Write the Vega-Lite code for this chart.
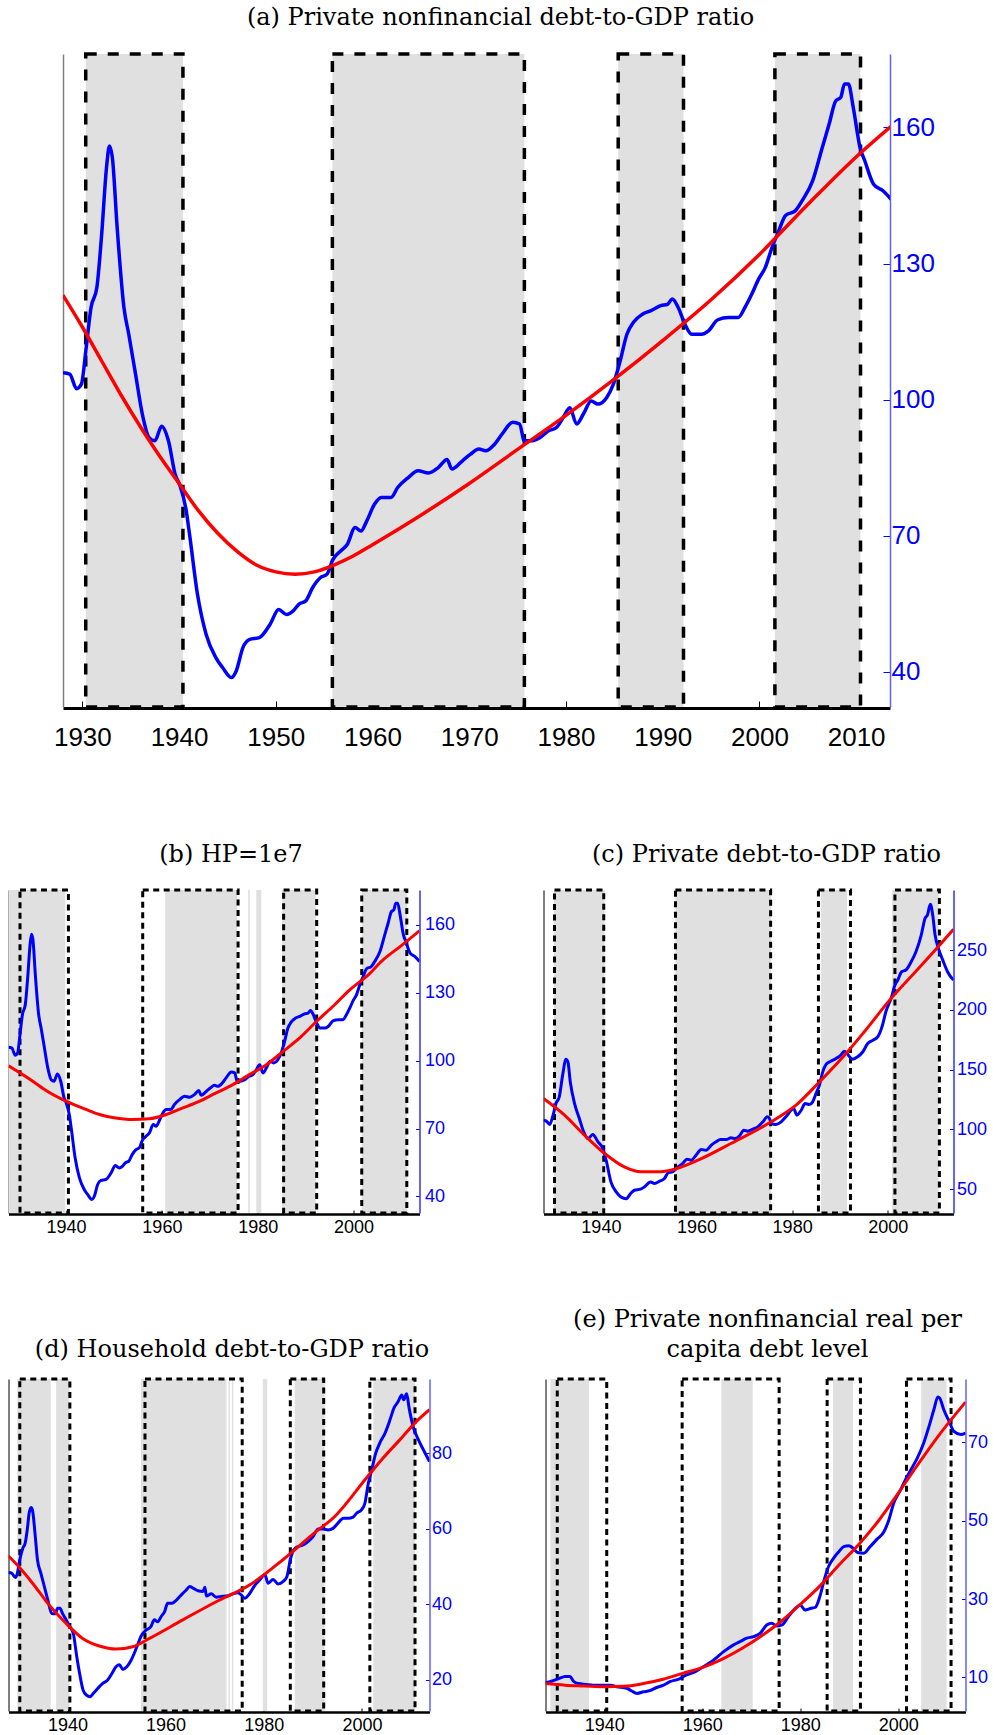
{
"$schema": "https://vega.github.io/schema/vega-lite/v6.json",
"background": "white",
"padding": {"left": 8.5, "top": 6, "right": 0, "bottom": 0},
"config": {
  "view": {"stroke": null},
  "axis": {"grid": false, "labelFont": "Liberation Sans", "titleFont": "Liberation Sans"},
  "title": {"font": "DejaVu Serif", "fontSize": 24, "fontWeight": "normal", "color": "black", "frame": "group", "anchor": "middle"},
  "line": {"interpolate": "monotone"}
},
"datasets": {
  "pnf": [
    {"year":1928.0,"value":105.9},{"year":1928.7,"value":105.6},{"year":1929.4,"value":102.4},{"year":1929.9,"value":103.4},{"year":1930.4,"value":111.5},{"year":1930.9,"value":120.3},{"year":1931.5,"value":124.7},{"year":1932.0,"value":136.5},{"year":1932.5,"value":151.2},{"year":1932.8,"value":155.9},{"year":1933.1,"value":153.4},{"year":1933.6,"value":137.9},{"year":1934.3,"value":120.3},{"year":1934.8,"value":114.4},{"year":1935.5,"value":105.6},{"year":1936.2,"value":96.8},{"year":1936.9,"value":91.6},{"year":1937.5,"value":90.9},{"year":1938.2,"value":94.1},{"year":1938.9,"value":90.9},{"year":1939.6,"value":83.5},{"year":1940.1,"value":81.0},{"year":1940.7,"value":76.0},{"year":1941.1,"value":70.0},{"year":1941.9,"value":57.1},{"year":1942.8,"value":48.2},{"year":1943.8,"value":43.1},{"year":1944.5,"value":40.9},{"year":1945.4,"value":38.7},{"year":1945.9,"value":40.1},{"year":1946.6,"value":45.3},{"year":1947.3,"value":47.1},{"year":1948.3,"value":47.5},{"year":1949.4,"value":50.4},{"year":1950.3,"value":53.7},{"year":1951.1,"value":52.6},{"year":1951.8,"value":53.4},{"year":1952.4,"value":54.9},{"year":1953.1,"value":55.6},{"year":1953.8,"value":58.5},{"year":1954.6,"value":60.7},{"year":1955.3,"value":61.5},{"year":1955.9,"value":64.7},{"year":1956.7,"value":66.6},{"year":1957.4,"value":68.1},{"year":1958.2,"value":71.8},{"year":1958.8,"value":71.0},{"year":1959.4,"value":73.2},{"year":1960.2,"value":76.9},{"year":1960.9,"value":78.4},{"year":1961.9,"value":78.4},{"year":1962.6,"value":80.6},{"year":1963.7,"value":82.8},{"year":1964.7,"value":84.3},{"year":1965.8,"value":83.8},{"year":1966.8,"value":85.0},{"year":1967.7,"value":86.8},{"year":1968.2,"value":84.7},{"year":1969.3,"value":86.5},{"year":1970.1,"value":87.9},{"year":1971.0,"value":89.1},{"year":1971.7,"value":88.7},{"year":1972.6,"value":90.1},{"year":1973.4,"value":92.4},{"year":1974.5,"value":95.0},{"year":1975.2,"value":94.6},{"year":1975.7,"value":90.9},{"year":1976.4,"value":90.9},{"year":1977.3,"value":91.6},{"year":1978.2,"value":93.1},{"year":1979.0,"value":93.8},{"year":1979.7,"value":96.0},{"year":1980.4,"value":98.2},{"year":1981.1,"value":94.6},{"year":1981.8,"value":96.8},{"year":1982.6,"value":99.7},{"year":1983.3,"value":99.0},{"year":1984.2,"value":100.4},{"year":1984.9,"value":103.4},{"year":1985.6,"value":108.5},{"year":1986.3,"value":114.4},{"year":1987.0,"value":117.1},{"year":1987.9,"value":118.8},{"year":1988.8,"value":119.6},{"year":1989.8,"value":120.7},{"year":1990.5,"value":121.0},{"year":1991.0,"value":122.2},{"year":1991.6,"value":120.3},{"year":1992.3,"value":116.6},{"year":1993.0,"value":114.4},{"year":1994.0,"value":114.4},{"year":1994.7,"value":115.1},{"year":1995.7,"value":117.6},{"year":1996.8,"value":118.1},{"year":1997.8,"value":118.1},{"year":1998.5,"value":120.3},{"year":1999.2,"value":123.2},{"year":1999.9,"value":126.5},{"year":2000.6,"value":129.1},{"year":2001.3,"value":133.5},{"year":2002.0,"value":137.2},{"year":2002.7,"value":140.6},{"year":2003.7,"value":141.6},{"year":2004.4,"value":143.8},{"year":2005.5,"value":148.2},{"year":2006.5,"value":155.6},{"year":2007.2,"value":160.7},{"year":2007.9,"value":165.9},{"year":2008.4,"value":166.6},{"year":2008.8,"value":169.6},{"year":2009.2,"value":169.6},{"year":2009.7,"value":164.4},{"year":2010.4,"value":155.6},{"year":2010.9,"value":152.6},{"year":2011.8,"value":147.5},{"year":2012.8,"value":146.0},{"year":2013.75,"value":143.8}
  ],
  "a_trend": [
    {"year":1928,"value":123},{"year":1930,"value":116},{"year":1932,"value":108.5},{"year":1934,"value":101},{"year":1936,"value":94},{"year":1938,"value":87.5},{"year":1940,"value":81.5},{"year":1942,"value":75.5},{"year":1944,"value":70.5},{"year":1946,"value":66.5},{"year":1948,"value":63.5},{"year":1950,"value":62},{"year":1952,"value":61.5},{"year":1954,"value":62},{"year":1956,"value":63.5},{"year":1958,"value":65.5},{"year":1960,"value":68},{"year":1965,"value":74.5},{"year":1970,"value":81.5},{"year":1975,"value":89},{"year":1980,"value":96.5},{"year":1985,"value":104.5},{"year":1990,"value":113},{"year":1995,"value":122},{"year":2000,"value":132},{"year":2005,"value":143},{"year":2010,"value":153.5},{"year":2013.75,"value":160.5}
  ],
  "a_shade": [{"year":1930.35,"end":1940.4},{"year":1955.85,"end":1975.7},{"year":1985.4,"end":1992.15},{"year":2001.6,"end":2010.45}],
  "b_trend": [
    {"year":1928,"value":97.7},{"year":1933,"value":91},{"year":1936,"value":86.6},{"year":1940,"value":82.1},{"year":1944,"value":78.6},{"year":1947,"value":76.2},{"year":1950,"value":74.8},{"year":1953.9,"value":74},{"year":1957.4,"value":74.3},{"year":1960.9,"value":76.2},{"year":1964,"value":78.8},{"year":1967.9,"value":82.1},{"year":1971,"value":85.4},{"year":1974.8,"value":89.4},{"year":1978,"value":93.5},{"year":1981.8,"value":98.2},{"year":1985.3,"value":104.1},{"year":1989,"value":110.5},{"year":1992.3,"value":117.4},{"year":1996,"value":124.6},{"year":1999.2,"value":131.3},{"year":2002.7,"value":137.2},{"year":2006.2,"value":144.6},{"year":2009.7,"value":150.4},{"year":2013.75,"value":157.4}
  ],
  "b_shade": [{"year":1928,"end":1939.85},{"year":1960.7,"end":1975.7},{"year":1978.0,"end":1978.35},{"year":1979.7,"end":1980.75},{"year":1985.1,"end":1992.1},{"year":2001.7,"end":2011.2}],
  "b_box": [{"year":1930.4,"end":1940.5},{"year":1956.0,"end":1975.9},{"year":1985.4,"end":1992.3},{"year":2001.7,"end":2011.1}],
  "c_blue": [
    {"year":1928.0,"value":107.8},{"year":1928.6,"value":107},{"year":1929.3,"value":104.2},{"year":1930.0,"value":112},{"year":1930.6,"value":121.7},{"year":1931.3,"value":127.3},{"year":1932.0,"value":145.4},{"year":1932.7,"value":158.8},{"year":1933.1,"value":156.6},{"year":1933.6,"value":139.8},{"year":1934.5,"value":121.7},{"year":1935.5,"value":109.2},{"year":1936.4,"value":98},{"year":1937.3,"value":92.4},{"year":1938.3,"value":95.8},{"year":1939.4,"value":89.7},{"year":1940.4,"value":84.1},{"year":1941.1,"value":74.3},{"year":1942.1,"value":56.2},{"year":1943.2,"value":47.8},{"year":1944.2,"value":43.6},{"year":1945.3,"value":42.2},{"year":1946.2,"value":46.4},{"year":1947.0,"value":49.2},{"year":1948.3,"value":50.1},{"year":1949.1,"value":52},{"year":1950.4,"value":56.2},{"year":1951.2,"value":54.8},{"year":1952.3,"value":56.8},{"year":1953.3,"value":59},{"year":1954.1,"value":64},{"year":1955.0,"value":64.6},{"year":1956.1,"value":68.7},{"year":1957.1,"value":71.5},{"year":1958.0,"value":75.2},{"year":1958.9,"value":74.3},{"year":1959.9,"value":78.5},{"year":1961.0,"value":83.2},{"year":1962.0,"value":82.7},{"year":1963.1,"value":86.9},{"year":1964.1,"value":89.7},{"year":1965.0,"value":91.6},{"year":1966.2,"value":91.6},{"year":1967.2,"value":93},{"year":1968.1,"value":92.5},{"year":1969.0,"value":94.7},{"year":1969.9,"value":99.4},{"year":1970.7,"value":98.6},{"year":1971.8,"value":100.3},{"year":1972.8,"value":102.2},{"year":1973.9,"value":106.4},{"year":1974.8,"value":110.6},{"year":1975.2,"value":109.7},{"year":1975.7,"value":105},{"year":1976.6,"value":104.2},{"year":1977.7,"value":106.4},{"year":1978.7,"value":110.6},{"year":1979.8,"value":116.1},{"year":1980.3,"value":117.5},{"year":1981.0,"value":112},{"year":1981.9,"value":116.1},{"year":1982.7,"value":121.7},{"year":1983.6,"value":120.9},{"year":1984.3,"value":123.1},{"year":1985.0,"value":130.1},{"year":1985.7,"value":137},{"year":1986.4,"value":148.2},{"year":1987.1,"value":154.4},{"year":1988.1,"value":157.1},{"year":1989.2,"value":159.4},{"year":1990.2,"value":162.2},{"year":1990.9,"value":165.5},{"year":1991.5,"value":163.5},{"year":1992.0,"value":160.8},{"year":1992.7,"value":158.8},{"year":1993.7,"value":160.8},{"year":1994.8,"value":165},{"year":1995.8,"value":171.9},{"year":1996.9,"value":174.7},{"year":1997.9,"value":177.5},{"year":1998.9,"value":187.3},{"year":1999.6,"value":198.4},{"year":2000.7,"value":209.6},{"year":2001.5,"value":220.7},{"year":2002.1,"value":224.9},{"year":2002.9,"value":231.9},{"year":2003.8,"value":233.3},{"year":2004.9,"value":240.2},{"year":2005.9,"value":248.6},{"year":2007.0,"value":262.5},{"year":2007.8,"value":276.5},{"year":2008.3,"value":279.3},{"year":2008.9,"value":288.2},{"year":2009.4,"value":279.3},{"year":2009.9,"value":262.5},{"year":2010.6,"value":251.4},{"year":2011.5,"value":241.6},{"year":2012.5,"value":231.9},{"year":2013.75,"value":224.9}
  ],
  "c_trend": [
    {"year":1928,"value":125.9},{"year":1932.4,"value":112},{"year":1936.6,"value":95.2},{"year":1940.8,"value":79.9},{"year":1944.9,"value":68.7},{"year":1948.4,"value":64.6},{"year":1951.9,"value":64.6},{"year":1955.4,"value":66.8},{"year":1960.3,"value":74.3},{"year":1967.2,"value":88.3},{"year":1975.6,"value":106.4},{"year":1981.2,"value":121.7},{"year":1985.4,"value":138.5},{"year":1991.6,"value":165},{"year":1995.1,"value":181.7},{"year":2000.7,"value":209.6},{"year":2005.6,"value":231},{"year":2010.5,"value":252.5},{"year":2013.75,"value":267.3}
  ],
  "c_shade": [{"year":1930.2,"end":1940.8},{"year":1955.6,"end":1975.6},{"year":1986.05,"end":1991.5},{"year":2000.9,"end":2010.6}],
  "c_box": [{"year":1930.3,"end":1940.6},{"year":1955.6,"end":1975.5},{"year":1985.5,"end":1992.2},{"year":2001.5,"end":2010.8}],
  "d_blue": [
    {"year":1928.0,"value":48.4},{"year":1928.7,"value":48.2},{"year":1929.4,"value":47.1},{"year":1929.8,"value":48.2},{"year":1930.3,"value":51.8},{"year":1930.9,"value":54.8},{"year":1931.4,"value":56.2},{"year":1931.9,"value":60.6},{"year":1932.2,"value":64.1},{"year":1932.6,"value":65.6},{"year":1932.9,"value":64.8},{"year":1933.4,"value":58.8},{"year":1933.9,"value":51.8},{"year":1934.6,"value":48.2},{"year":1935.3,"value":44.7},{"year":1936.0,"value":41.2},{"year":1936.8,"value":37.6},{"year":1937.5,"value":37.5},{"year":1938.0,"value":39},{"year":1938.5,"value":39},{"year":1939.0,"value":37.6},{"year":1939.7,"value":36},{"year":1940.5,"value":34.1},{"year":1941.2,"value":32.3},{"year":1941.9,"value":26.2},{"year":1942.6,"value":20.9},{"year":1943.2,"value":17.3},{"year":1943.9,"value":16},{"year":1944.6,"value":15.6},{"year":1945.3,"value":16.5},{"year":1946.2,"value":17.8},{"year":1947.2,"value":19.1},{"year":1948.2,"value":20},{"year":1949.1,"value":21.8},{"year":1949.9,"value":23.5},{"year":1950.6,"value":24},{"year":1951.3,"value":22.8},{"year":1952.1,"value":23.5},{"year":1953.0,"value":25.3},{"year":1953.6,"value":27},{"year":1954.3,"value":29.3},{"year":1955.0,"value":31.6},{"year":1956.0,"value":33.2},{"year":1957.0,"value":34.1},{"year":1957.7,"value":35.9},{"year":1958.4,"value":35.4},{"year":1959.1,"value":36.8},{"year":1959.8,"value":38.1},{"year":1960.4,"value":40.3},{"year":1961.3,"value":40.3},{"year":1962.1,"value":41},{"year":1963.2,"value":42.5},{"year":1964.2,"value":43.8},{"year":1964.9,"value":44.7},{"year":1965.6,"value":44.3},{"year":1966.6,"value":43.6},{"year":1967.6,"value":43.4},{"year":1968.0,"value":44.5},{"year":1968.3,"value":42.2},{"year":1969.3,"value":42.8},{"year":1970.3,"value":41.9},{"year":1971.3,"value":42.1},{"year":1972.4,"value":42.2},{"year":1973.7,"value":42.8},{"year":1974.7,"value":43.1},{"year":1975.4,"value":42.5},{"year":1976.1,"value":41.6},{"year":1977.1,"value":42.8},{"year":1978.1,"value":44.9},{"year":1979.2,"value":46.5},{"year":1980.2,"value":47.8},{"year":1980.9,"value":45.6},{"year":1981.9,"value":46.6},{"year":1982.9,"value":45.4},{"year":1983.9,"value":46},{"year":1984.7,"value":47.3},{"year":1985.4,"value":51.8},{"year":1986.1,"value":54.4},{"year":1987.0,"value":55.3},{"year":1988.0,"value":55.7},{"year":1989.0,"value":56.6},{"year":1990.0,"value":57.9},{"year":1991.1,"value":59.9},{"year":1992.1,"value":59.9},{"year":1993.1,"value":59.7},{"year":1994.1,"value":60.1},{"year":1995.1,"value":61.5},{"year":1996.2,"value":62.8},{"year":1997.2,"value":62.8},{"year":1998.2,"value":63.1},{"year":1998.9,"value":64.1},{"year":1999.9,"value":65},{"year":2000.6,"value":66.8},{"year":2001.3,"value":72.1},{"year":2001.9,"value":75.1},{"year":2002.8,"value":80},{"year":2003.6,"value":82.6},{"year":2004.7,"value":85.3},{"year":2005.7,"value":88.8},{"year":2006.5,"value":91.9},{"year":2007.4,"value":93.7},{"year":2008.1,"value":95.4},{"year":2008.5,"value":94.1},{"year":2009.1,"value":95.7},{"year":2009.6,"value":91.9},{"year":2010.4,"value":87.1},{"year":2011.5,"value":83.5},{"year":2012.5,"value":80.9},{"year":2013.75,"value":77.8}
  ],
  "d_trend": [
    {"year":1928,"value":52.8},{"year":1930.2,"value":49.8},{"year":1932.9,"value":45.6},{"year":1936.3,"value":39.8},{"year":1939.7,"value":35},{"year":1943.1,"value":31},{"year":1946.5,"value":29},{"year":1949.9,"value":28.2},{"year":1953.3,"value":28.8},{"year":1956.7,"value":31},{"year":1963.5,"value":35.9},{"year":1970.3,"value":40.7},{"year":1977.1,"value":45.1},{"year":1983.9,"value":51.8},{"year":1990.7,"value":59.3},{"year":1994.1,"value":62.8},{"year":2000.9,"value":73.4},{"year":2004.3,"value":78.7},{"year":2007.7,"value":83.5},{"year":2011.1,"value":88.4},{"year":2013.75,"value":91.5}
  ],
  "d_shade": [{"year":1929.8,"end":1936.6},{"year":1937.7,"end":1940.4},{"year":1955.0,"end":1972.4},{"year":1972.8,"end":1973.1},{"year":1973.5,"end":1973.8},{"year":1979.8,"end":1980.7},{"year":1986.3,"end":1992.4},{"year":2002.3,"end":2010.8}],
  "d_box": [{"year":1930.3,"end":1940.5},{"year":1955.8,"end":1975.6},{"year":1985.4,"end":1992.2},{"year":2001.6,"end":2010.8}],
  "e_blue": [
    {"year":1928.0,"value":8.6},{"year":1929.2,"value":9.0},{"year":1930.6,"value":9.6},{"year":1932.0,"value":10.2},{"year":1933.0,"value":10.2},{"year":1933.7,"value":9.0},{"year":1934.7,"value":8.4},{"year":1936.4,"value":8.2},{"year":1937.7,"value":8.0},{"year":1939.1,"value":8.0},{"year":1941.2,"value":8.0},{"year":1942.5,"value":7.6},{"year":1944.6,"value":7.2},{"year":1945.6,"value":6.5},{"year":1946.7,"value":5.9},{"year":1948.0,"value":6.3},{"year":1949.3,"value":6.6},{"year":1950.7,"value":7.4},{"year":1952.1,"value":8.0},{"year":1953.4,"value":8.9},{"year":1955.1,"value":9.5},{"year":1956.8,"value":10.6},{"year":1958.5,"value":11.4},{"year":1960.2,"value":12.7},{"year":1962.3,"value":14.4},{"year":1964.3,"value":16.5},{"year":1966.4,"value":18.3},{"year":1967.7,"value":19.1},{"year":1969.1,"value":20},{"year":1970.5,"value":20.4},{"year":1971.8,"value":21.2},{"year":1973.2,"value":23.4},{"year":1974.2,"value":23.8},{"year":1975.2,"value":23.1},{"year":1976.3,"value":23.4},{"year":1977.6,"value":25.5},{"year":1979.0,"value":27.6},{"year":1980.0,"value":28.5},{"year":1981.0,"value":27.2},{"year":1982.1,"value":27.6},{"year":1983.1,"value":27.9},{"year":1984.1,"value":31},{"year":1984.9,"value":34.9},{"year":1985.8,"value":38.3},{"year":1986.8,"value":40.4},{"year":1987.9,"value":42.1},{"year":1988.9,"value":43.4},{"year":1989.9,"value":43.6},{"year":1990.8,"value":43.0},{"year":1991.7,"value":41.9},{"year":1993.0,"value":41.7},{"year":1994.3,"value":43.4},{"year":1995.7,"value":45.3},{"year":1997.1,"value":47.2},{"year":1998.1,"value":50.2},{"year":1999.1,"value":54.5},{"year":2000.5,"value":57.9},{"year":2001.5,"value":60.5},{"year":2002.6,"value":63},{"year":2003.9,"value":66},{"year":2005.2,"value":69.8},{"year":2006.3,"value":74.1},{"year":2007.3,"value":78.4},{"year":2008.1,"value":81.6},{"year":2008.5,"value":81.3},{"year":2009.3,"value":78.4},{"year":2010.4,"value":75.4},{"year":2011.4,"value":72.8},{"year":2012.8,"value":72},{"year":2013.75,"value":72.4}
  ],
  "e_trend": [
    {"year":1928,"value":8.4},{"year":1932,"value":8.0},{"year":1936,"value":7.8},{"year":1940,"value":7.6},{"year":1944,"value":7.7},{"year":1948,"value":8.4},{"year":1952,"value":9.5},{"year":1956,"value":11},{"year":1960,"value":12.5},{"year":1964,"value":14.6},{"year":1968,"value":17.3},{"year":1972,"value":20.5},{"year":1976,"value":24.2},{"year":1980,"value":28.6},{"year":1984,"value":33.3},{"year":1988,"value":38.8},{"year":1992,"value":44},{"year":1996,"value":50},{"year":2000,"value":57},{"year":2004,"value":64.3},{"year":2008,"value":71.3},{"year":2013.75,"value":80.3}
  ],
  "e_shade": [{"year":1929.0,"end":1936.9},{"year":1963.9,"end":1970.3},{"year":1986.7,"end":1990.8},{"year":2004.7,"end":2009.9}],
  "e_box": [{"year":1930.4,"end":1940.5},{"year":1955.9,"end":1975.7},{"year":1985.5,"end":1992.3},{"year":2001.7,"end":2010.8}]
},
"spacing": 92,
"vconcat": [
  {
    "spacing": 8.5,
    "hconcat": [
      {"width": 36, "height": 10, "data": {"values": []}, "mark": "point"},
      {
        "width": 827, "height": 653,
        "title": {"text": "(a) Private nonfinancial debt-to-GDP ratio", "dx": 24, "offset": 22},
        "encoding": {"x": {"field": "year", "type": "quantitative", "scale": {"domain": [1928, 2013.5], "nice": false, "zero": false},
          "axis": {"title": null, "values": [1930,1940,1950,1960,1970,1980,1990,2000,2010], "format": "d", "labelFontSize": 26, "labelColor": "black", "labelPadding": 23, "tickSize": -7, "tickColor": "black", "tickWidth": 1, "domainWidth": 3, "domainColor": "black", "offset": 1}}},
        "layer": [
          {"data": {"name": "a_shade"}, "mark": {"type": "rect", "color": "#e0e0e0"}, "encoding": {"x2": {"field": "end"}}},
          {"data": {"name": "a_shade"}, "mark": {"type": "rect", "fill": "transparent", "stroke": "black", "strokeWidth": 3.5, "strokeDash": [11, 11]}, "encoding": {"x2": {"field": "end"}}},
          {"data": {"name": "pnf"}, "mark": {"type": "line", "color": "#0000ff", "strokeWidth": 3.5, "clip": true},
            "encoding": {"y": {"field": "value", "type": "quantitative", "scale": {"domain": [32.2, 176.2], "nice": false, "zero": false},
              "axis": {"orient": "right", "title": null, "values": [40,70,100,130,160], "labelFontSize": 26, "labelColor": "#0000ff", "labelPadding": 8, "tickSize": -7, "tickColor": "#0000ff", "domainColor": "#6060ff", "domainWidth": 1.5}}}},
          {"data": {"name": "a_trend"}, "mark": {"type": "line", "color": "#ff0000", "strokeWidth": 3.5, "clip": true},
            "encoding": {"y": {"field": "value", "type": "quantitative",
              "axis": {"orient": "left", "labels": false, "ticks": false, "domainColor": "#808080", "domainWidth": 1.5, "title": null}}}}
        ],
        "resolve": {"axis": {"y": "independent"}}
      }
    ]
  },
  {
    "spacing": 71,
    "vconcat": [
      {
        "hconcat": [
          {
            "width": 411, "height": 323,
            "title": {"text": "(b) HP=1e7", "dx": 17, "offset": 22},
            "encoding": {"x": {"field": "year", "type": "quantitative", "scale": {"domain": [1928, 2013.75], "nice": false, "zero": false},
              "axis": {"title": null, "values": [1940,1960,1980,2000], "format": "d", "labelFontSize": 18, "labelColor": "black", "labelPadding": 8, "tickSize": -4, "tickColor": "black", "domainWidth": 2.5, "domainColor": "black", "offset": 1}}},
            "layer": [
              {"data": {"name": "b_shade"}, "mark": {"type": "rect", "color": "#e0e0e0"}, "encoding": {"x2": {"field": "end"}}},
              {"data": {"name": "b_box"}, "mark": {"type": "rect", "fill": "transparent", "stroke": "black", "strokeWidth": 3, "strokeDash": [6, 4.5]}, "encoding": {"x2": {"field": "end"}}},
              {"data": {"name": "pnf"}, "mark": {"type": "line", "color": "#0000ff", "strokeWidth": 3, "clip": true},
                "encoding": {"y": {"field": "value", "type": "quantitative", "scale": {"domain": [32.7, 175.4], "nice": false, "zero": false},
                  "axis": {"orient": "right", "title": null, "values": [40,70,100,130,160], "labelFontSize": 18, "labelColor": "#0000ff", "labelPadding": 9, "tickSize": -4, "tickColor": "#0000ff", "domainColor": "#3030ff", "domainWidth": 1.5}}}},
              {"data": {"name": "b_trend"}, "mark": {"type": "line", "color": "#ff0000", "strokeWidth": 3, "clip": true},
                "encoding": {"y": {"field": "value", "type": "quantitative", "axis": {"orient": "left", "labels": false, "ticks": false, "domainColor": "black", "domainWidth": 1, "title": null}}}}
            ],
            "resolve": {"axis": {"y": "independent"}}
          },
          {
            "width": 410, "height": 323,
            "title": {"text": "(c) Private debt-to-GDP ratio", "dx": 18, "offset": 22},
            "encoding": {"x": {"field": "year", "type": "quantitative", "scale": {"domain": [1928, 2013.75], "nice": false, "zero": false},
              "axis": {"title": null, "values": [1940,1960,1980,2000], "format": "d", "labelFontSize": 18, "labelColor": "black", "labelPadding": 8, "tickSize": -4, "tickColor": "black", "domainWidth": 2.5, "domainColor": "black", "offset": 1}}},
            "layer": [
              {"data": {"name": "c_shade"}, "mark": {"type": "rect", "color": "#e0e0e0"}, "encoding": {"x2": {"field": "end"}}},
              {"data": {"name": "c_box"}, "mark": {"type": "rect", "fill": "transparent", "stroke": "black", "strokeWidth": 3, "strokeDash": [6, 4.5]}, "encoding": {"x2": {"field": "end"}}},
              {"data": {"name": "c_blue"}, "mark": {"type": "line", "color": "#0000ff", "strokeWidth": 3, "clip": true},
                "encoding": {"y": {"field": "value", "type": "quantitative", "scale": {"domain": [30.2, 300.2], "nice": false, "zero": false},
                  "axis": {"orient": "right", "title": null, "values": [50,100,150,200,250], "labelFontSize": 18, "labelColor": "#0000ff", "labelPadding": 7, "tickSize": -4, "tickColor": "#0000ff", "domainColor": "#3030ff", "domainWidth": 1.5}}}},
              {"data": {"name": "c_trend"}, "mark": {"type": "line", "color": "#ff0000", "strokeWidth": 3, "clip": true},
                "encoding": {"y": {"field": "value", "type": "quantitative", "axis": {"orient": "left", "labels": false, "ticks": false, "domainColor": "black", "domainWidth": 1, "title": null}}}}
            ],
            "resolve": {"axis": {"y": "independent"}}
          }
        ],
        "spacing": 124,
        "bounds": "flush"
      },
      {
        "hconcat": [
          {
            "width": 421, "height": 332,
            "title": {"text": "(d) Household debt-to-GDP ratio", "dx": 13, "offset": 16},
            "encoding": {"x": {"field": "year", "type": "quantitative", "scale": {"domain": [1928, 2013.75], "nice": false, "zero": false},
              "axis": {"title": null, "values": [1940,1960,1980,2000], "format": "d", "labelFontSize": 18, "labelColor": "black", "labelPadding": 8, "tickSize": -4, "tickColor": "black", "domainWidth": 2.5, "domainColor": "black", "offset": 1}}},
            "layer": [
              {"data": {"name": "d_shade"}, "mark": {"type": "rect", "color": "#e0e0e0"}, "encoding": {"x2": {"field": "end"}}},
              {"data": {"name": "d_box"}, "mark": {"type": "rect", "fill": "transparent", "stroke": "black", "strokeWidth": 3, "strokeDash": [6, 4.5]}, "encoding": {"x2": {"field": "end"}}},
              {"data": {"name": "d_blue"}, "mark": {"type": "line", "color": "#0000ff", "strokeWidth": 3, "clip": true},
                "encoding": {"y": {"field": "value", "type": "quantitative", "scale": {"domain": [11.8, 99.6], "nice": false, "zero": false},
                  "axis": {"orient": "right", "title": null, "values": [20,40,60,80], "labelFontSize": 18, "labelColor": "#0000ff", "labelPadding": 6, "tickSize": -4, "tickColor": "#0000ff", "domainColor": "#6060ff", "domainWidth": 1.5}}}},
              {"data": {"name": "d_trend"}, "mark": {"type": "line", "color": "#ff0000", "strokeWidth": 3, "clip": true},
                "encoding": {"y": {"field": "value", "type": "quantitative", "axis": {"orient": "left", "labels": false, "ticks": false, "domainColor": "black", "domainWidth": 1, "title": null}}}}
            ],
            "resolve": {"axis": {"y": "independent"}}
          },
          {
            "width": 420, "height": 332,
            "title": {"text": ["(e) Private nonfinancial real per", "capita debt level"], "lineHeight": 30, "dx": 12, "offset": 16},
            "encoding": {"x": {"field": "year", "type": "quantitative", "scale": {"domain": [1928, 2013.75], "nice": false, "zero": false},
              "axis": {"title": null, "values": [1940,1960,1980,2000], "format": "d", "labelFontSize": 18, "labelColor": "black", "labelPadding": 8, "tickSize": -4, "tickColor": "black", "domainWidth": 2.5, "domainColor": "black", "offset": 1}}},
            "layer": [
              {"data": {"name": "e_shade"}, "mark": {"type": "rect", "color": "#e0e0e0"}, "encoding": {"x2": {"field": "end"}}},
              {"data": {"name": "e_box"}, "mark": {"type": "rect", "fill": "transparent", "stroke": "black", "strokeWidth": 3, "strokeDash": [6, 4.5]}, "encoding": {"x2": {"field": "end"}}},
              {"data": {"name": "e_blue"}, "mark": {"type": "line", "color": "#0000ff", "strokeWidth": 3, "clip": true},
                "encoding": {"y": {"field": "value", "type": "quantitative", "scale": {"domain": [1.4, 86.2], "nice": false, "zero": false},
                  "axis": {"orient": "right", "title": null, "values": [10,30,50,70], "labelFontSize": 18, "labelColor": "#0000ff", "labelPadding": 6, "tickSize": -4, "tickColor": "#0000ff", "domainColor": "#6060ff", "domainWidth": 1.5}}}},
              {"data": {"name": "e_trend"}, "mark": {"type": "line", "color": "#ff0000", "strokeWidth": 3, "clip": true},
                "encoding": {"y": {"field": "value", "type": "quantitative", "axis": {"orient": "left", "labels": false, "ticks": false, "domainColor": "black", "domainWidth": 1, "title": null}}}}
            ],
            "resolve": {"axis": {"y": "independent"}}
          }
        ],
        "spacing": 116,
        "bounds": "flush"
      }
    ]
  }
]
}
